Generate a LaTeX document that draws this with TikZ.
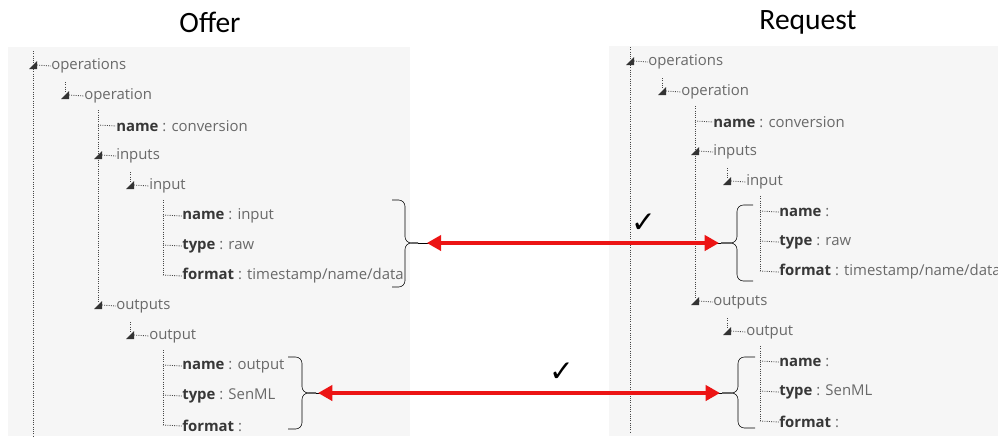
\documentclass[tikz,border=0pt]{standalone}
\usepackage{fontspec}
\setmainfont{Open Sans}
\newfontfamily\titlefont{Carlito}
\newfontfamily\symbfont{DejaVu Sans}
\usetikzlibrary{arrows.meta}

\definecolor{panelgray}{RGB}{246,246,246}
\definecolor{keygray}{RGB}{55,55,55}
\definecolor{valgray}{RGB}{105,105,105}
\definecolor{linegray}{RGB}{70,70,70}
\definecolor{matchred}{RGB}{236,20,20}

\tikzset{
  treeline/.style={linegray, densely dotted, line width=0.6pt},
  treetext/.style={anchor=west, inner sep=0pt, text=valgray,
                   font=\fontsize{10.6}{12}\selectfont},
  toggle/.style={fill=black!80},
  bracepath/.style={thin, rounded corners=0.16cm},
  match/.style={matchred, line width=2.8pt,
                {Triangle[length=0.36cm,width=0.38cm]}-{Triangle[length=0.36cm,width=0.38cm]}}
}

\newcommand{\key}[1]{\textcolor{keygray}{\bfseries #1}}

\begin{document}
\begin{tikzpicture}[x=0.025cm, y=-0.025cm]

            \useasboundingbox (0,0) rectangle (998,436);

            % panels
            \fill[panelgray] (8,47) rectangle (410,436);
            \fill[panelgray] (609,46) rectangle (998,436);

            \node (offer) at (210,22) {\titlefont\fontsize{21}{24}\selectfont Offer};
            \node (request) at (808,22) {\titlefont\fontsize{21}{24}\selectfont Request};

            \foreach \p/\ox/\oy/\inval/\outval in {L/0/0/{: input}/{: output}, R/597/-4/:/:} {
                \begin{scope}[shift={(\ox,\oy)}]

                % root and branch lines
                \draw[treeline] (33,51) -- (33,436);
                \draw[treeline] (98,110) -- (98,302);
                \draw[treeline] (163,200) -- (163,275);
                \draw[treeline] (163,350) -- (163,425);
                \draw[treeline] (65,82) -- (65,92);
                \draw[treeline] (130,172) -- (130,182);
                \draw[treeline] (130,322) -- (130,332);

                % entries
                \node[treetext] (\p-ops) at (51,66) {operations};
                \node[treetext] (\p-op) at (84,96) {operation};
                \node[treetext] (\p-opname) at (116,126) {\key{name} : conversion};
                \node[treetext] (\p-ins) at (116,156) {inputs};
                \node[treetext] (\p-in) at (149,186) {input};
                \node[treetext] (\p-inname) at (182,216) {\key{name} \inval};
                \node[treetext] (\p-intype) at (182,246) {\key{type} : raw};
                \node[treetext] (\p-infmt) at (182,276) {\key{format} : timestamp/name/data};
                \node[treetext] (\p-outs) at (116,306) {outputs};
                \node[treetext] (\p-out) at (149,336) {output};
                \node[treetext] (\p-outname) at (182,366) {\key{name} \outval};
                \node[treetext] (\p-outtype) at (182,396) {\key{type} : SenML};
                \node[treetext] (\p-outfmt) at (182,426) {\key{format} :};

                % toggles
                \foreach \x/\y/\n in {33/65/ops, 65/95/op, 98/155/ins, 130/185/in, 98/305/outs, 130/335/out} {
                    \fill[toggle] (\x-4,\y+4) -- ++(8,0) -- ++(0,-8) -- cycle;
                    \draw[treeline] (\x+4,\y) -- (\p-\n.west);
                }

                % leaves
                \draw[treeline] (98,125) -- (\p-opname.west);
                \foreach \y/\n in {215/inname, 245/intype, 275/infmt, 365/outname, 395/outtype, 425/outfmt} {
                    \draw[treeline] (163,\y) -- (\p-\n.west);
                }

                \end{scope}
            }

            % braces
            \coordinate (inL) at (418,243);
            \coordinate (inR) at (721,243);
            \coordinate (outL) at (316,393);
            \coordinate (outR) at (722,393);
            \foreach \tip/\xe/\xm/\ya/\yb in {inL/392/405/200/287, inR/753/737/205/281,
                                              outL/288/302/357/429, outR/755/738/357/428} {
                \draw[bracepath] (\xe,\ya) -| (\xm,\ya+20) |- (\tip);
                \draw[bracepath] (\xe,\yb) -| (\xm,\yb-20) |- (\tip);
            }

            % matches
            \draw[thin] (inL) -- (inR);
            \draw[thin] (outL) -- (outR);
            \draw[match] ([xshift=0.22cm]inL) -- ([xshift=-0.05cm]inR);
            \draw[match] ([xshift=0.05cm]outL) -- ([xshift=-0.05cm]outR);
            \node (okin) at (644,223) {\symbfont\fontsize{21}{24}\selectfont ✓};
            \node (okout) at (562,372) {\symbfont\fontsize{21}{24}\selectfont ✓};

\end{tikzpicture}
\end{document}
